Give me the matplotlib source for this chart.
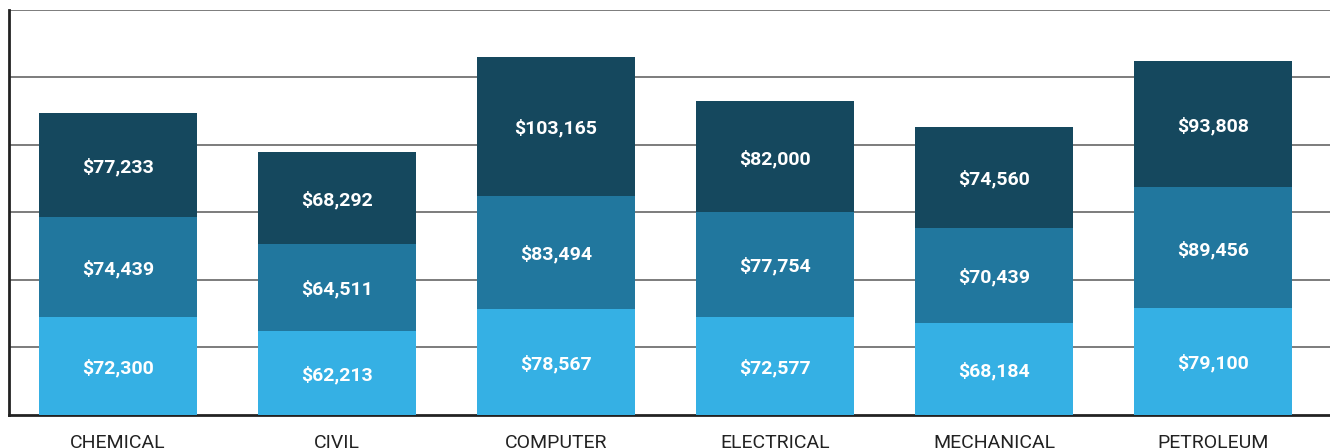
import matplotlib.pyplot as plt
import numpy as np

majors = ['CHEMICAL', 'CIVIL', 'COMPUTER', 'ELECTRICAL', 'MECHANICAL', 'PETROLEUM']
low = [72300, 62213, 78567, 72577, 68184, 79100]
mid = [74439, 64511, 83494, 77754, 70439, 89456]
high = [77233, 68292, 103165, 82000, 74560, 93808]

colors = ['#35b0e4', '#21779e', '#15485e']

plt.rcParams['font.family'] = ['Roboto', 'DejaVu Sans']

fig = plt.figure(figsize=(13.3, 4.48), dpi=100)
ax = fig.add_axes([0.0064, 0.0737, 0.9936, 0.904])

x = np.arange(len(majors))
bottom = np.zeros(len(majors))
for vals, c in zip([low, mid, high], colors):
    vals = np.array(vals)
    ax.bar(x, vals, width=0.72, bottom=bottom, color=c, zorder=3)
    for xi, b, v in zip(x, bottom, vals):
        ax.text(xi, b + v / 2 - 1500, '${:,}'.format(v), ha='center', va='center',
                color='white', fontsize=14, fontweight='bold', zorder=4)
    bottom += vals

ax.set_xlim(-0.5, 5.534)
ax.set_ylim(0, 300000)
ax.set_yticks(np.arange(50000, 300001, 50000))
ax.yaxis.grid(True, color='#666666', linewidth=1.2, zorder=0)
ax.tick_params(axis='y', left=False, labelleft=False)
ax.tick_params(axis='x', bottom=False, labelsize=14, colors='#222222', pad=10)
ax.set_xticks(x)
ax.set_xticklabels(majors)
for s in ['top', 'right']:
    ax.spines[s].set_visible(False)
for s in ['left', 'bottom']:
    ax.spines[s].set_color('#222222')
    ax.spines[s].set_linewidth(2)

fig.savefig('out.png', dpi=100)
